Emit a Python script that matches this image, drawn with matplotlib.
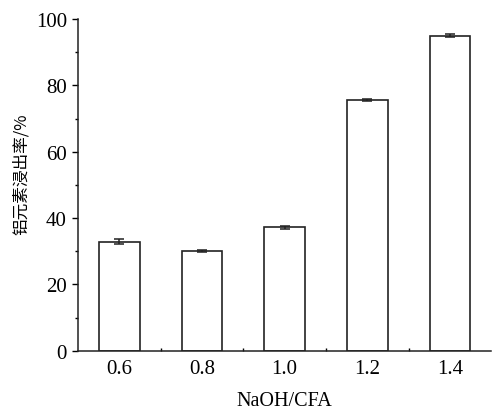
import numpy as np
import matplotlib.pyplot as plt
from matplotlib.ticker import MultipleLocator

# data
ratios = [0.6, 0.8, 1.0, 1.2, 1.4]
ratio_labels = ['0.6', '0.8', '1.0', '1.2', '1.4']
leach_rate = [32.9, 30.1, 37.2, 75.6, 95.0]
leach_err = [0.8, 0.3, 0.4, 0.2, 0.5]

plt.rcParams['font.family'] = ['Liberation Serif', 'Noto Sans CJK SC']

fig = plt.figure(figsize=(4.92, 4.10), dpi=100)
ax = fig.add_axes([0.1585, 0.1422, 0.84, 0.809])

ax.bar(ratios, leach_rate, width=0.098, color='white', edgecolor='#222222',
       linewidth=1.2, yerr=leach_err, capsize=3.5,
       error_kw=dict(ecolor='#222222', elinewidth=1.1, capthick=1.1))

ax.set_xlim(0.5, 1.5)
ax.set_ylim(0, 100)
ax.set_xticks(ratios)
ax.set_xticklabels(ratio_labels)
ax.xaxis.set_minor_locator(plt.FixedLocator([0.7, 0.9, 1.1, 1.3]))
ax.yaxis.set_major_locator(MultipleLocator(20))
ax.yaxis.set_minor_locator(MultipleLocator(10))

for s in ['top', 'right']:
    ax.spines[s].set_visible(False)
for s in ['left', 'bottom']:
    ax.spines[s].set_linewidth(1.1)
    ax.spines[s].set_color('#222222')

ax.tick_params(axis='y', which='major', direction='out', length=4, width=1.0,
               labelsize=15, pad=4)
ax.tick_params(axis='y', which='minor', direction='out', length=2.5, width=1.0)
ax.tick_params(axis='x', which='major', direction='in', length=0, labelsize=15, pad=6)
ax.tick_params(axis='x', which='minor', direction='in', length=2.5, width=1.0)

ax.set_xlabel('NaOH/CFA', fontsize=14.5, labelpad=9)
ax.set_ylabel('铝元素浸出率/%', fontsize=12,
              family=['Noto Sans CJK SC', 'Liberation Serif'])
ax.yaxis.set_label_coords(-0.116, 0.536)

fig.savefig('out.png', dpi=100)
